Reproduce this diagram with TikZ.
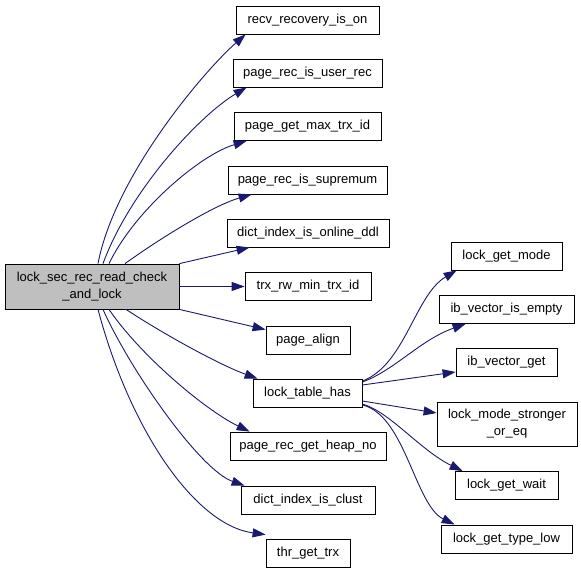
\documentclass[tikz,border=0pt]{standalone}
\usepackage{fontspec}
\setmainfont{Liberation Sans}
\usetikzlibrary{arrows.meta}
\definecolor{edgeblue}{HTML}{191970}
\definecolor{maingray}{HTML}{BFBFBF}
\begin{document}
\begin{tikzpicture}[x=1pt,y=-1pt,
  box/.style={draw=black, line width=0.8pt, fill=white, inner sep=0pt, minimum height=28pt, font=\fontsize{13}{17}\selectfont, align=center},
  edge/.style={draw=edgeblue, line width=0.9pt, -{Triangle[length=13pt,width=9pt]}}]
\useasboundingbox (0,0) rectangle (581,573);
% main node
\node[box, fill=maingray, minimum width=174pt, minimum height=45pt] (main) at (92,286.5) {lock\_sec\_rec\_read\_check\\\_and\_lock};
% middle column
\node[box, minimum width=143pt] (recv) at (307.5,20) {recv\_recovery\_is\_on};
\node[box, minimum width=149pt] (userrec) at (307.5,73) {page\_rec\_is\_user\_rec};
\node[box, minimum width=147pt] (maxtrx) at (307.5,126.5) {page\_get\_max\_trx\_id};
\node[box, minimum width=159pt] (suprem) at (307.5,180) {page\_rec\_is\_supremum};
\node[box, minimum width=162pt] (ddl) at (308,233) {dict\_index\_is\_online\_ddl};
\node[box, minimum width=126pt] (trxrw) at (308,286.5) {trx\_rw\_min\_trx\_id};
\node[box, minimum width=84pt] (align) at (308,340) {page\_align};
\node[box, minimum width=109pt] (lth) at (307.5,393) {lock\_table\_has};
\node[box, minimum width=156pt] (heapno) at (308,446) {page\_rec\_get\_heap\_no};
\node[box, minimum width=134pt] (clust) at (308,500) {dict\_index\_is\_clust};
\node[box, minimum width=84pt] (thr) at (308,553) {thr\_get\_trx};
% right column
\node[box, minimum width=111pt] (getmode) at (506.5,256) {lock\_get\_mode};
\node[box, minimum width=135pt] (vecempty) at (506.5,309.5) {ib\_vector\_is\_empty};
\node[box, minimum width=101pt] (vecget) at (506.5,362.5) {ib\_vector\_get};
\node[box, minimum width=140pt, minimum height=44pt] (stronger) at (507,424) {lock\_mode\_stronger\\\_or\_eq};
\node[box, minimum width=103pt] (getwait) at (506.5,485.5) {lock\_get\_wait};
\node[box, minimum width=131pt] (typelow) at (506.5,539) {lock\_get\_type\_low};
% edges from main
\draw[edge] ([xshift=6pt]main.north) .. controls (115,175) and (205,70) .. ([xshift=10pt]recv.south west);
\draw[edge] ([xshift=11pt]main.north) .. controls (130,190) and (200,115) .. ([xshift=14pt]userrec.south west);
\draw[edge] ([xshift=17pt]main.north) .. controls (135,210) and (200,155) .. ([xshift=13pt]maxtrx.south west);
\draw[edge] ([xshift=33pt]main.north) .. controls (165,235) and (215,205) .. ([xshift=24pt]suprem.south west);
\draw[edge] (main.north east) -- ([xshift=23pt]ddl.south west);
\draw[edge] (main.east) -- (trxrw.west);
\draw[edge] (main.south east) -- ([yshift=-4pt]align.north west);
\draw[edge] ([xshift=34pt]main.south) .. controls (165,335) and (220,365) .. ([xshift=5pt]lth.north west);
\draw[edge] ([xshift=17pt]main.south) .. controls (140,355) and (205,410) .. ([xshift=20pt]heapno.north west);
\draw[edge] ([xshift=11pt]main.south) .. controls (130,370) and (200,470) .. ([xshift=4pt]clust.north west);
\draw[edge] ([xshift=6pt]main.south) .. controls (130,430) and (195,525) .. ([yshift=4pt]thr.north west);
% edges from lock_table_has
\draw[edge] ([yshift=12pt]lth.east) .. controls (405,365) and (415,295) .. ([xshift=6pt]getmode.south west);
\draw[edge] ([yshift=11pt]lth.east) .. controls (395,370) and (420,340) .. ([xshift=27pt]vecempty.south west);
\draw[edge] ([yshift=8pt]lth.east) -- ([yshift=-9.5pt]vecget.west);
\draw[edge] ([yshift=-8pt]lth.east) -- ([yshift=11pt]stronger.west);
\draw[edge] ([yshift=-11pt]lth.east) .. controls (390,412) and (420,450) .. ([xshift=8pt]getwait.north west);
\draw[edge] ([yshift=-12pt]lth.east) .. controls (405,415) and (415,505) .. ([xshift=14pt]typelow.north west);
\end{tikzpicture}
\end{document}
